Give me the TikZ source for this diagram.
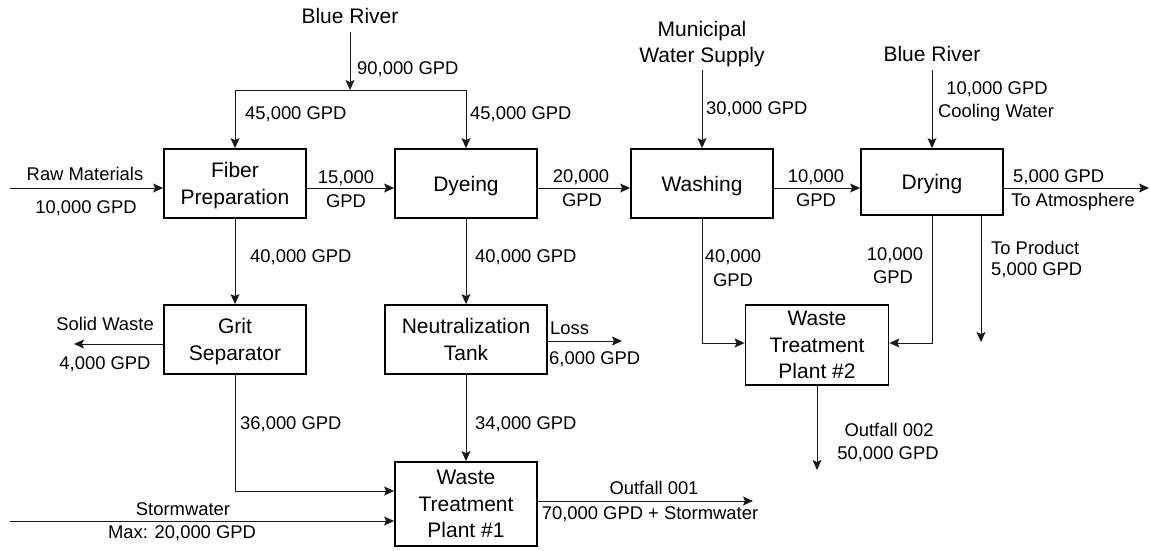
\documentclass[tikz,border=0pt]{standalone}
\usepackage{fontspec}
\setmainfont{Liberation Sans}
\usetikzlibrary{arrows.meta}
\begin{document}
\begin{tikzpicture}[x=1pt,y=-1pt,
  proc/.style={draw=black, line width=1.8pt, rectangle, inner sep=0pt, align=center,
    font=\fontsize{21}{26.5}\selectfont},
  src/.style={inner sep=0pt, outer xsep=0pt, outer ysep=8pt, align=center, anchor=south,
    font=\fontsize{21}{26}\selectfont},
  lbl/.style={inner sep=0pt, font=\fontsize{18.4}{23}\selectfont, text depth=0pt},
  pipe/.style={draw=black!90, line width=1pt},
  flow/.style={pipe, -{Stealth[length=10pt,width=9pt,inset=2pt]}},
]
\useasboundingbox (0,0) rectangle (1150,550);

% process boxes
\node[proc, minimum width=142pt, minimum height=69pt] (fiber) at (235,183.5) {Fiber\\\smash{Preparation}};
\node[proc, text depth=0pt, minimum width=142pt, minimum height=69pt] (dyeing) at (466,183.5) {Dyeing};
\node[proc, text depth=0pt, minimum width=142pt, minimum height=69pt] (washing) at (702,183.5) {Washing};
\node[proc, text depth=0pt, minimum width=142pt, minimum height=66pt] (drying) at (932,182) {Drying};
\node[proc, minimum width=142pt, minimum height=69pt] (grit) at (235,339.5) {Grit\\\smash{Separator}};
\node[proc, minimum width=162pt, minimum height=69pt] (neutr) at (466,339.5) {Neutralization\\\smash{Tank}};
\node[proc, minimum width=142pt, minimum height=84pt] (wtp1) at (466,504) {Waste\\Treatment\\\smash{Plant \#1}};
\node[proc, minimum width=143pt, minimum height=80pt] (wtp2) at (817,345) {Waste\\Treatment\\\smash{Plant \#2}};

% sources
\node[src] (br1) at (350,32) {\smash{Blue River}};
\node[src] (mun) at (702,70) {Municipal\\\smash{Water Supply}};
\node[src] (br2) at (932,70) {\smash{Blue River}};

% coordinates
\coordinate (rowA) at (0,188);
\coordinate (jc) at (350,90);
\coordinate (jl) at (235,90);
\coordinate (jr) at (466,90);
\coordinate (rawin) at (10,188);
\coordinate (atm) at (1149,188);
\coordinate (solid) at (74,344);
\coordinate (loss) at (622,341);
\coordinate (gb) at (235,491);
\coordinate (storm) at (10,521);
\coordinate (out1) at (753,501);
\coordinate (wb) at (702,343);
\coordinate (db) at (932,343);
\coordinate (prod) at (981,342);
\coordinate (out2) at (817,470);

% connectors
\draw[flow] (br1.south) -- (jc);
\draw[pipe] (jl) -- (jr);
\draw[flow] (jl) -- (fiber.north);
\draw[flow] (jr) -- (dyeing.north);
\draw[flow] (mun.south) -- (washing.north);
\draw[flow] (br2.south) -- (drying.north);
\draw[flow] (rawin) -- (rawin -| fiber.west);
\draw[flow] (fiber.east |- rowA) -- (dyeing.west |- rowA);
\draw[flow] (dyeing.east |- rowA) -- (washing.west |- rowA);
\draw[flow] (washing.east |- rowA) -- (drying.west |- rowA);
\draw[flow] (drying.east |- rowA) -- (atm);
\draw[flow] (fiber.south) -- (grit.north);
\draw[flow] (dyeing.south) -- (neutr.north);
\draw[flow] (neutr.south) -- (wtp1.north);
\draw[flow] (grit.west |- solid) -- (solid);
\draw[flow] (neutr.east |- loss) -- (loss);
\draw[flow] (grit.south) -- (gb) -- (gb -| wtp1.west);
\draw[flow] (storm) -- (storm -| wtp1.west);
\draw[flow] (wtp1.east |- out1) -- (out1);
\draw[flow] (washing.south) -- (wb) -- (wb -| wtp2.west);
\draw[flow] (drying.south) -- (db) -- (db -| wtp2.east);
\draw[flow] (drying.south -| prod) -- (prod);
\draw[flow] (wtp2.south) -- (out2);

% labels
\node[lbl, anchor=west] (l90) at (357,68) {90,000 GPD};
\node[lbl, anchor=west] (l45a) at (245,113) {45,000 GPD};
\node[lbl, anchor=west] (l45b) at (470,113) {45,000 GPD};
\node[lbl] (lraw1) at (85,174) {Raw Materials};
\node[lbl] (lraw2) at (86,207) {10,000 GPD};
\node[lbl] (l15a) at (346,177) {15,000};
\node[lbl] (l15b) at (346,201) {GPD};
\node[lbl] (l20a) at (581,176) {20,000};
\node[lbl] (l20b) at (582,200) {GPD};
\node[lbl] (l10a) at (816,176) {10,000};
\node[lbl] (l10b) at (816,200) {GPD};
\node[lbl, anchor=west] (l5a) at (1013,176) {5,000 GPD};
\node[lbl, anchor=west] (l5b) at (1011,200) {To Atmosphere};
\node[lbl, anchor=west] (l30) at (706,108) {30,000 GPD};
\node[lbl] (lcw1) at (997,88) {10,000 GPD};
\node[lbl] (lcw2) at (996,111) {Cooling Water};
\node[lbl, anchor=west] (l40a) at (250,256) {40,000 GPD};
\node[lbl, anchor=west] (l40b) at (475,256) {40,000 GPD};
\node[lbl] (lsw1) at (105,324) {Solid Waste};
\node[lbl] (lsw2) at (105,363) {4,000 GPD};
\node[lbl, anchor=west] (lloss1) at (550,328) {Loss};
\node[lbl, anchor=west] (lloss2) at (549,358) {6,000 GPD};
\node[lbl, anchor=west] (l36) at (240,423) {36,000 GPD};
\node[lbl, anchor=west] (l34) at (475,423) {34,000 GPD};
\node[lbl] (lst1) at (183,509) {Stormwater};
\node[lbl] (lst2) at (182,532) {Max: 20,000 GPD};
\node[lbl] (lo1a) at (654,488) {Outfall 001};
\node[lbl] (lo1b) at (650,513) {70,000 GPD + Stormwater};
\node[lbl] (lw40a) at (733,256) {40,000};
\node[lbl] (lw40b) at (733,280) {GPD};
\node[lbl] (ld10a) at (895,254) {10,000};
\node[lbl] (ld10b) at (893,277) {GPD};
\node[lbl, anchor=west] (lp1) at (991,248) {To Product};
\node[lbl, anchor=west] (lp2) at (991,269) {5,000 GPD};
\node[lbl] (lo2a) at (889,430) {Outfall 002};
\node[lbl] (lo2b) at (888,453) {50,000 GPD};
\end{tikzpicture}
\end{document}
